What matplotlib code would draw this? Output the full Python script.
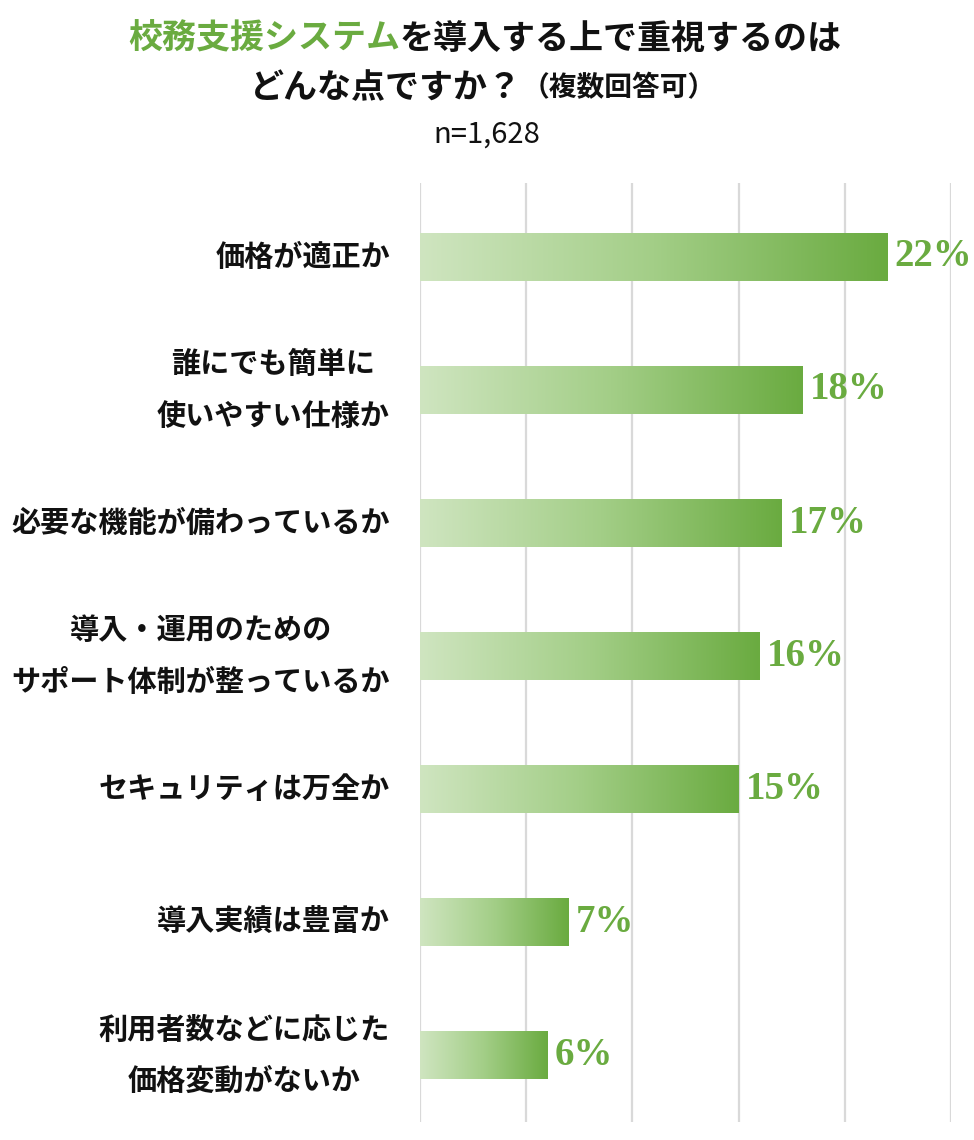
import matplotlib
matplotlib.use('Agg')
import matplotlib.pyplot as plt
import numpy as np
from matplotlib.colors import LinearSegmentedColormap

categories = ["価格が適正か",
              "誰にでも簡単に\n使いやすい仕様か",
              "必要な機能が備わっているか",
              "導入・運用のための\nサポート体制が整っているか",
              "セキュリティは万全か",
              "導入実績は豊富か",
              "利用者数などに応じた\n価格変動がないか"]
values = [22, 18, 17, 16, 15, 7, 6]
value_labels = ["22%", "18%", "17%", "16%", "15%", "7%", "6%"]
xticks = [0, 5, 10, 15, 20, 25]

title_green = "校務支援システム"
title_black = "を導入する上で重視するのは"
title2_main = "どんな点ですか？"
title2_sub = "（複数回答可）"
title3 = "n=1,628"

JP = ['Noto Sans CJK JP', 'DejaVu Sans']
GREEN = '#6aab40'
plt.rcParams['font.family'] = JP

W, H = 974, 1140
fig = plt.figure(figsize=(W / 100, H / 100), dpi=100)
top_px, bot_px, left_px, right_px = 183, 1122, 420, 951
ax = fig.add_axes([left_px / W, 1 - bot_px / H, (right_px - left_px) / W, (bot_px - top_px) / H])
ax.set_xlim(0, 25)
ax.set_ylim(len(categories) - 0.5, -0.555)
for s in ax.spines.values():
    s.set_visible(False)
ax.set_xticks(xticks)
ax.tick_params(axis='x', length=0, labelbottom=False)
ax.set_yticks([])
ax.grid(axis='x', color='#d9d9d9', linewidth=1.6, zorder=0)
ax.set_axisbelow(True)

cmap = LinearSegmentedColormap.from_list('g', ['#cfe5c0', '#a3ce87', '#6aab40'])
grad = np.linspace(0, 1, 256).reshape(1, -1)
bh = 0.36
for i, v in enumerate(values):
    ax.imshow(grad, cmap=cmap, aspect='auto', extent=[0, v, i + bh / 2, i - bh / 2],
              zorder=2, interpolation='bicubic')
    ax.text(v + 0.35, i, value_labels[i], ha='left', va='center', color=GREEN,
            fontsize=28, fontweight='bold', family=['Liberation Serif'], zorder=3)

lab_x = -30 / (right_px - left_px)
for i, c in enumerate(categories):
    ax.text(lab_x, i, c, transform=ax.get_yaxis_transform(), ha='right', va='center',
            fontsize=21, fontweight='bold', multialignment='center', linespacing=1.9,
            color='#111111', clip_on=False)

# title with mixed colours
fig.canvas.draw()
r = fig.canvas.get_renderer()
ts = 24.5
t1 = fig.text(0, 1 - 38 / H, title_green, color=GREEN, fontsize=ts, fontweight='bold', va='center')
t2 = fig.text(0, 1 - 38 / H, title_black, color='#111111', fontsize=ts, fontweight='bold', va='center')
w1 = t1.get_window_extent(r).width
w2 = t2.get_window_extent(r).width
x0 = (485 - (w1 + w2) / 2)
t1.set_x(x0 / W)
t2.set_x((x0 + w1) / W)

s1 = fig.text(0, 1 - 88 / H, title2_main, color='#111111', fontsize=ts, fontweight='bold', va='center')
s2 = fig.text(0, 1 - 88 / H, title2_sub, color='#111111', fontsize=20, fontweight='bold', va='center')
v1 = s1.get_window_extent(r).width
v2 = s2.get_window_extent(r).width
x0 = (483 - (v1 + v2) / 2)
s1.set_x(x0 / W)
s2.set_x((x0 + v1) / W)

fig.text(487 / W, 1 - 135 / H, title3, color='#111111', fontsize=21, ha='center', va='center')

fig.savefig('out.png', dpi=100, facecolor='white')
